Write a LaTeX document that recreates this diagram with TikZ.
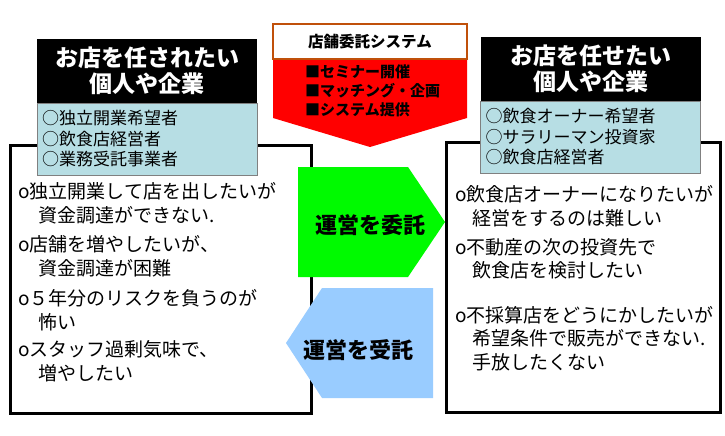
\documentclass[tikz,border=0pt]{standalone}
\usepackage{fontspec}
\setmainfont{Noto Sans CJK JP}
\usetikzlibrary{positioning}

\definecolor{arrowgreen}{RGB}{0,250,0}
\definecolor{arrowblue}{RGB}{153,204,255}
\definecolor{listblue}{RGB}{183,222,228}
\definecolor{framebrown}{RGB}{192,80,10}

\begin{document}
\begin{tikzpicture}[
    x=1pt, y=-1pt,
    bigbox/.style={rectangle, draw=black, line width=3pt},
    headbox/.style={rectangle, fill=black, text=white, minimum width=220pt, minimum height=63pt, align=center, inner sep=0pt, font=\fontsize{23}{26}\selectfont\bfseries},
    listbox/.style={rectangle, fill=listblue, draw=gray, minimum width=220pt, minimum height=72pt, text width=210pt, align=left, inner sep=0pt, font=\fontsize{17}{20.5}\selectfont},
    itemtext/.style={anchor=west, align=left, inner sep=0pt, font=\fontsize{19}{23.5}\selectfont},
    armtext/.style={inner sep=0pt, font=\fontsize{22}{26}\selectfont\bfseries}
]
\path[use as bounding box, fill=white] (0,0) rectangle (725,436);

% outer frames
\node[bigbox, minimum width=301pt, minimum height=268pt] (leftframe) at (160.5,279) {};
\node[bigbox, minimum width=274pt, minimum height=270pt] (rightframe) at (583,277) {};

% headers
\node[headbox] (lefthead) at (147,71) {お店を任されたい\\個人や企業};
\node[listbox, below=0pt of lefthead] (leftlist) {○独立開業希望者\\○飲食店経営者\\○業務受託事業者};
\node[headbox] (righthead) at (590.5,69) {お店を任せたい\\個人や企業};
\node[listbox, below=0pt of righthead] (rightlist) {○飲食オーナー希望者\\○サラリーマン投資家\\○飲食店経営者};

% service in the middle
\fill[red] (273,59) -- (467,59) -- (467,118) -- (370,147) -- (273,118) -- cycle;
\node[rectangle, draw=framebrown, line width=2.5pt, fill=white, minimum width=194pt, minimum height=35pt, font=\fontsize{15.5}{18}\selectfont\bfseries] (service) at (370,41.5) {店舗委託システム};
\node[anchor=west, align=left, inner sep=0pt, font=\fontsize{15}{19}\selectfont\bfseries] (offer) at (305,91) {■セミナー開催\\■マッチング・企画\\■システム提供};

% arrows
\fill[arrowgreen] (298,167) -- (408,167) -- (445,222) -- (408,277) -- (298,277) -- cycle;
\node[armtext] (entrust) at (370,225) {運営を委託};
\fill[arrowblue] (433,288) -- (433,398) -- (322,398) -- (286,343) -- (322,288) -- cycle;
\node[armtext] (accept) at (358,350) {運営を受託};

% left needs
\node[itemtext] (lneed1) at (18,203.5) {o独立開業して店を出したいが\\\hspace*{1.05em}資金調達ができない.};
\node[itemtext] (lneed2) at (18,256.5) {o店舗を増やしたいが、\\\hspace*{1.05em}資金調達が困難};
\node[itemtext] (lneed3) at (18,310) {o５年分のリスクを負うのが\\\hspace*{1.05em}怖い};
\node[itemtext] (lneed4) at (18,361.5) {oスタッフ過剰気味で、\\\hspace*{1.05em}増やしたい};

% right needs
\node[itemtext] (rneed1) at (455,206) {o飲食店オーナーになりたいが\\\hspace*{0.9em}経営をするのは難しい};
\node[itemtext] (rneed2) at (455,259) {o不動産の次の投資先で\\\hspace*{0.9em}飲食店を検討したい};
\node[itemtext] (rneed3) at (455,338.5) {o不採算店をどうにかしたいが\\\hspace*{0.9em}希望条件で販売ができない.\\\hspace*{0.9em}手放したくない};

\end{tikzpicture}
\end{document}
